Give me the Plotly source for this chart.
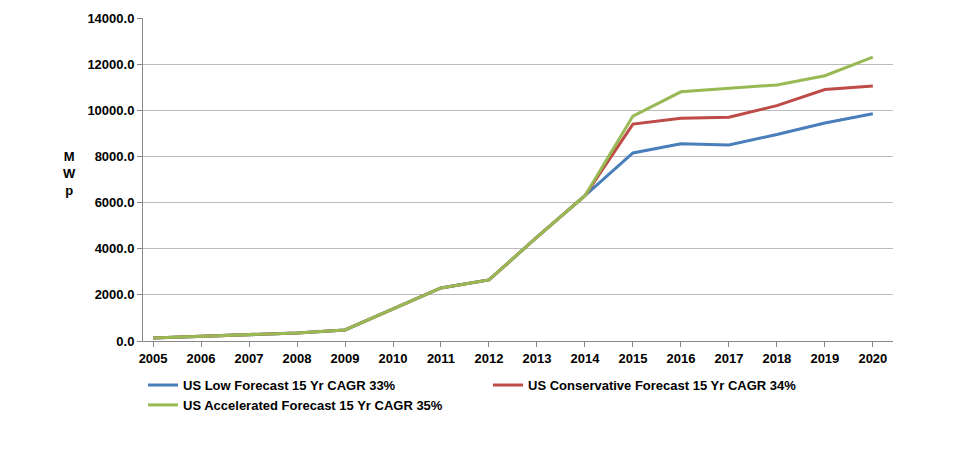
import plotly.graph_objects as go

years = list(range(2005, 2021))
low = [130, 200, 280, 350, 480, 1400, 2300, 2650, 4500, 6300, 8150, 8550, 8500, 8950, 9450, 9850]
conservative = [130, 200, 280, 350, 480, 1400, 2300, 2650, 4500, 6300, 9400, 9650, 9700, 10200, 10900, 11050]
accelerated = [130, 200, 280, 350, 480, 1400, 2300, 2650, 4500, 6300, 9750, 10800, 10950, 11100, 11500, 12300]

names = ["US Low Forecast 15 Yr CAGR 33%",
         "US Conservative Forecast 15 Yr CAGR 34%",
         "US Accelerated Forecast 15 Yr CAGR 35%"]
colors = ["#4a7ebb", "#be4b48", "#98b954"]

fig = go.Figure()
for vals, name, c in zip([low, conservative, accelerated], names, colors):
    fig.add_trace(go.Scatter(x=years, y=vals, mode="lines", name="<b>%s</b>" % name,
                             line=dict(color=c, width=3)))

fig.update_layout(
    width=974, height=457,
    margin=dict(l=135, r=89, t=10, b=124, autoexpand=False),
    plot_bgcolor="white", paper_bgcolor="white",
    font=dict(family="Liberation Sans, Arial", size=13, color="black"),
    showlegend=True,
    legend=dict(orientation="h", x=0.0, xanchor="left", y=-0.09, yanchor="top",
                entrywidth=300, entrywidthmode="pixels",
                font=dict(size=13, family="Liberation Sans, Arial"),
                tracegroupgap=0),
    xaxis=dict(range=[2004.79, 2020.42], tickmode="array", tickvals=years,
               ticktext=["<b>%d</b>" % y for y in years],
               showline=True, linecolor="#888888", showgrid=False,
               ticks="outside", ticklen=5, tickcolor="#888888"),
    yaxis=dict(range=[0, 14000], tickmode="array",
               tickvals=list(range(0, 14001, 2000)),
               ticktext=["<b>%.1f</b>" % v for v in range(0, 14001, 2000)],
               showline=True, linecolor="#888888", gridcolor="#bbbbbb",
               ticks="outside", ticklen=5, tickcolor="#888888"),
)
fig.add_annotation(text="<b>M<br>W<br>p</b>", xref="paper", yref="paper",
                   x=-0.11, y=0.52, showarrow=False, align="center",
                   font=dict(size=13))

fig.write_html("out.html")
